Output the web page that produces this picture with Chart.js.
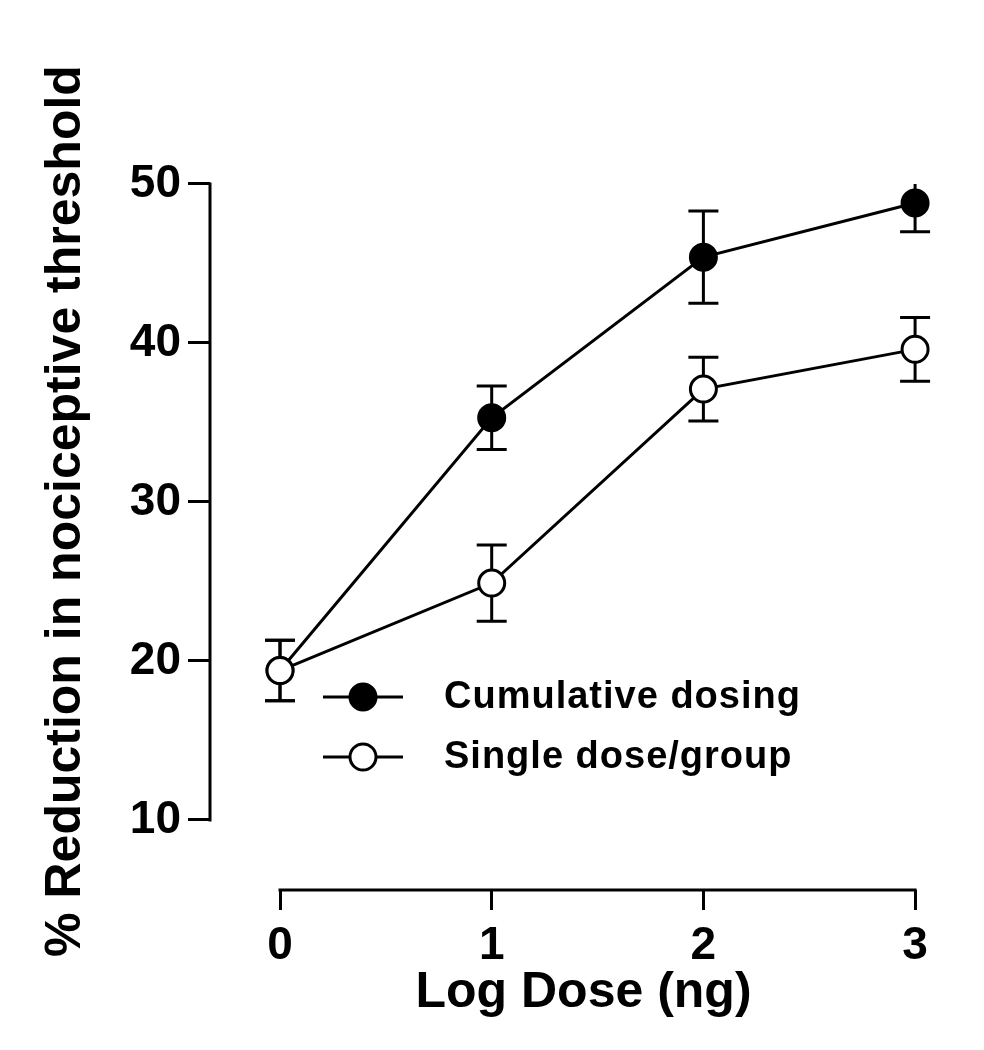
<!DOCTYPE html>
<html>
<head>
<meta charset="utf-8">
<script src="https://cdn.jsdelivr.net/npm/chart.js@4"></script>
<style>
    html, body { margin: 0; padding: 0; background: #fff; }
    canvas { display: block; }
</style>
</head>
<body>
<canvas id="grafico" width="984" height="1050"></canvas>
<script>
// dati
const doses = [0, 1, 2, 3];
const cumulativeMean = [19.4, 35.3, 45.4, 48.8];
const cumulativeSem = [1.9, 2.0, 2.9, 1.8];
const singleMean = [19.4, 24.9, 37.1, 39.6];
const singleSem = [1.9, 2.4, 2.0, 2.0];

const xTicks = [0, 1, 2, 3];
const yTicks = [10, 20, 30, 40, 50];
const seriesLabels = ['Cumulative dosing', 'Single dose/group'];
const xTitle = 'Log Dose (ng)';
const yTitle = '% Reduction in nociceptive threshold';

const fontFamily = '"Liberation Sans", Arial, sans-serif';

function toPoints(xs, ys, errs) {
    return xs.map((x, i) => ({ x: x, y: ys[i], err: errs[i] }));
}

//barre di errore, disegnate sotto i punti
const errorBars = {
    id: 'errorBars',
    beforeDatasetsDraw(chart) {
        const { ctx, chartArea, scales: { x, y } } = chart;
        const yTop = y.getPixelForValue(yTicks[yTicks.length - 1]);
        ctx.save();
        ctx.beginPath();
        ctx.rect(chartArea.left, yTop, chartArea.right - chartArea.left, chartArea.bottom - yTop);
        ctx.clip();
        ctx.strokeStyle = '#000';
        ctx.lineWidth = 3;
        chart.data.datasets.forEach(ds => {
            ds.data.forEach(p => {
                const px = x.getPixelForValue(p.x);
                const hi = y.getPixelForValue(p.y + p.err);
                const lo = y.getPixelForValue(p.y - p.err);
                ctx.beginPath();
                ctx.moveTo(px, hi); ctx.lineTo(px, lo);
                ctx.moveTo(px - 15, hi); ctx.lineTo(px + 15, hi);
                ctx.moveTo(px - 15, lo); ctx.lineTo(px + 15, lo);
                ctx.stroke();
            });
        });
        ctx.restore();
    }
};

//assi staccati stile Prism
const detachedAxes = {
    id: 'detachedAxes',
    afterDraw(chart) {
        const { ctx, chartArea, scales: { x, y } } = chart;
        ctx.save();
        ctx.strokeStyle = '#000';
        ctx.lineWidth = 3;
        ctx.lineCap = 'square';
        ctx.beginPath();
        ctx.moveTo(chartArea.left, y.getPixelForValue(yTicks[0]));
        ctx.lineTo(chartArea.left, y.getPixelForValue(yTicks[yTicks.length - 1]));
        ctx.moveTo(x.getPixelForValue(xTicks[0]), chartArea.bottom);
        ctx.lineTo(x.getPixelForValue(xTicks[xTicks.length - 1]), chartArea.bottom);
        ctx.stroke();
        ctx.restore();
    }
};

//legenda dentro l'area del grafico
const insideLegend = {
    id: 'insideLegend',
    afterDraw(chart, args, opts) {
        const { ctx } = chart;
        ctx.save();
        ctx.font = 'bold 38px ' + fontFamily;
        ctx.letterSpacing = '1px';
        ctx.textBaseline = 'middle';
        ctx.fillStyle = '#000';
        seriesLabels.forEach((label, i) => {
            const ds = chart.data.datasets.find(d => d.label === label);
            const yy = opts.top + i * opts.rowGap;
            ctx.strokeStyle = '#000';
            ctx.lineWidth = 3;
            ctx.beginPath();
            ctx.moveTo(opts.left, yy);
            ctx.lineTo(opts.left + opts.lineLength, yy);
            ctx.stroke();
            ctx.beginPath();
            ctx.arc(opts.left + opts.lineLength / 2, yy, 13, 0, Math.PI * 2);
            ctx.fillStyle = ds.pointBackgroundColor;
            ctx.fill();
            ctx.stroke();
            ctx.fillStyle = '#000';
            ctx.fillText(label, opts.textLeft, yy + 1);
        });
        ctx.restore();
    }
};

const tickFont = { family: fontFamily, size: 46, weight: 'bold' };
const titleFont = { family: fontFamily, size: 50, weight: 'bold' };

new Chart(document.getElementById('grafico').getContext('2d'), {
    type: 'line',
    data: {
        datasets: [
            {
                label: seriesLabels[1],
                data: toPoints(doses, singleMean, singleSem),
                borderColor: '#000',
                borderWidth: 3,
                pointBackgroundColor: '#fff',
                pointBorderColor: '#000',
                pointBorderWidth: 3,
                pointRadius: 13,
                tension: 0,
                clip: false,
                order: 0
            },
            {
                label: seriesLabels[0],
                data: toPoints(doses, cumulativeMean, cumulativeSem),
                borderColor: '#000',
                borderWidth: 3,
                pointBackgroundColor: '#000',
                pointBorderColor: '#000',
                pointBorderWidth: 3,
                pointRadius: 13,
                tension: 0,
                clip: false,
                order: 1
            }
        ]
    },
    options: {
        responsive: false,
        animation: false,
        layout: { padding: { top: 132, left: 0, right: 27, bottom: 0 } },
        plugins: {
            legend: { display: false },
            tooltip: { enabled: false },
            insideLegend: { left: 323, lineLength: 80, textLeft: 444, top: 697, rowGap: 60 }
        },
        scales: {
            x: {
                type: 'linear',
                min: -0.3307,
                max: 3.198,
                afterBuildTicks: scale => { scale.ticks = xTicks.map(v => ({ value: v })); },
                afterFit: scale => { scale.height = 160; },
                border: { display: false },
                grid: { drawOnChartArea: false, drawTicks: true, tickLength: 20, color: '#000', lineWidth: 3 },
                ticks: { color: '#000', font: tickFont, padding: 9, maxRotation: 0 },
                title: { display: true, text: xTitle, color: '#000', font: titleFont, padding: { top: 0, bottom: 27 } }
            },
            y: {
                type: 'linear',
                min: 5.597,
                max: 53.27,
                afterBuildTicks: scale => { scale.ticks = yTicks.map(v => ({ value: v })); },
                afterFit: scale => { scale.width = 210; },
                border: { display: false },
                grid: { drawOnChartArea: false, drawTicks: true, tickLength: 22, color: '#000', lineWidth: 3 },
                ticks: { color: '#000', font: tickFont, padding: 7 },
                title: { display: true, text: yTitle, color: '#000', font: titleFont, padding: { top: 36, bottom: 0 } }
            }
        }
    },
    plugins: [errorBars, detachedAxes, insideLegend]
});
</script>
</body>
</html>
